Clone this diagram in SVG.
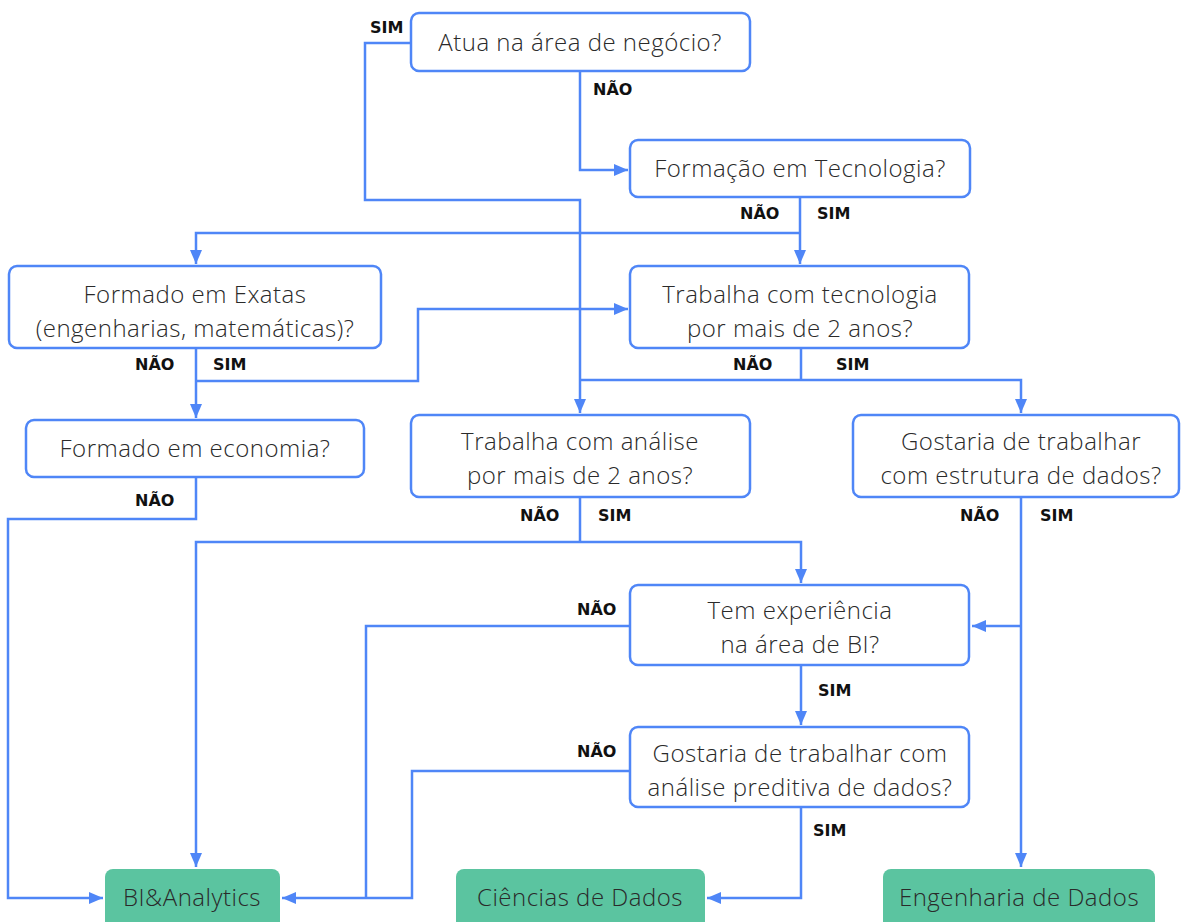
<svg xmlns="http://www.w3.org/2000/svg" width="1181" height="922" viewBox="0 0 1181 922">
<defs>
<marker id="ah" viewBox="0 0 14 12" refX="14" refY="6" markerWidth="14" markerHeight="12" markerUnits="userSpaceOnUse" orient="auto">
<path d="M0,0 L14,6 L0,12 z" fill="#4f86f7"/>
</marker>
<style>
.q rect{fill:#fff;stroke:#4f86f7;stroke-width:2.5}
.r rect{fill:#5bc4a0}
.q text,.r text{font-family:"Open Sans","Liberation Sans",sans-serif;font-weight:300;font-size:24px;letter-spacing:0.5px;fill:#2a2a2a;text-anchor:middle}
.c path{fill:none;stroke:#4f86f7;stroke-width:2.5}
.c path.a{marker-end:url(#ah)}
.l{font-family:"DejaVu Sans","Liberation Sans",sans-serif;font-weight:700;font-size:16px;fill:#111}
</style>
</defs>
<rect width="1181" height="922" fill="#fff"/>
<g class="c">
<path d="M411,43 H365 V200 H580 V413" class="a"/>
<path d="M580,71 V170 H628" class="a"/>
<path d="M800,197 V264" class="a"/>
<path d="M800,233 H196 V264" class="a"/>
<path d="M196,348 V418" class="a"/>
<path d="M196,381 H418 V309 H628" class="a"/>
<path d="M196,477 V519 H8 V898 H103" class="a"/>
<path d="M801,348 V380"/>
<path d="M580,380 H1021 V413" class="a"/>
<path d="M580,497 V542"/>
<path d="M580,542 H196 V867" class="a"/>
<path d="M580,542 H801 V583" class="a"/>
<path d="M1021,497 V867" class="a"/>
<path d="M1021,626 H972" class="a"/>
<path d="M630,626 H366 V898"/>
<path d="M630,771 H412 V898 H282" class="a"/>
<path d="M801,665 V725" class="a"/>
<path d="M801,807 V898 H707" class="a"/>
</g>
<g id="n1" class="q"><rect x="411" y="13" width="339" height="58" rx="8"/><text x="580" y="51">Atua na área de negócio?</text></g>
<g id="n2" class="q"><rect x="630" y="140" width="340" height="57" rx="8"/><text x="800" y="177">Formação em Tecnologia?</text></g>
<g id="n3" class="q"><rect x="9" y="266" width="372" height="82" rx="8"/><text x="195" y="303">Formado em Exatas</text><text x="195" y="337">(engenharias, matemáticas)?</text></g>
<g id="n4" class="q"><rect x="630" y="266" width="339" height="82" rx="8"/><text x="800" y="303">Trabalha com tecnologia</text><text x="800" y="337">por mais de 2 anos?</text></g>
<g id="n5" class="q"><rect x="26" y="420" width="338" height="57" rx="8"/><text x="195" y="457">Formado em economia?</text></g>
<g id="n6" class="q"><rect x="411" y="415" width="339" height="82" rx="8"/><text x="580" y="450">Trabalha com análise</text><text x="580" y="484">por mais de 2 anos?</text></g>
<g id="n7" class="q"><rect x="853" y="415" width="326" height="82" rx="8"/><text x="1021" y="450">Gostaria de trabalhar</text><text x="1021" y="484">com estrutura de dados?</text></g>
<g id="n8" class="q"><rect x="630" y="585" width="339" height="80" rx="8"/><text x="800" y="619">Tem experiência</text><text x="800" y="653">na área de BI?</text></g>
<g id="n9" class="q"><rect x="630" y="727" width="339" height="80" rx="8"/><text x="800" y="762">Gostaria de trabalhar com</text><text x="800" y="796">análise preditiva de dados?</text></g>
<g id="r1" class="r"><rect x="105" y="869" width="175" height="70" rx="8"/><text x="192" y="906">BI&amp;Analytics</text></g>
<g id="r2" class="r"><rect x="456" y="869" width="249" height="70" rx="8"/><text x="580" y="906">Ciências de Dados</text></g>
<g id="r3" class="r"><rect x="883" y="869" width="272" height="70" rx="8"/><text x="1019" y="906">Engenharia de Dados</text></g>
<g id="labels">
<text class="l" x="370" y="33">SIM</text>
<text class="l" x="593" y="95">NÃO</text>
<text class="l" x="740" y="219">NÃO</text>
<text class="l" x="817" y="219">SIM</text>
<text class="l" x="135" y="370">NÃO</text>
<text class="l" x="213" y="370">SIM</text>
<text class="l" x="733" y="370">NÃO</text>
<text class="l" x="836" y="370">SIM</text>
<text class="l" x="135" y="506">NÃO</text>
<text class="l" x="520" y="521">NÃO</text>
<text class="l" x="598" y="521">SIM</text>
<text class="l" x="960" y="521">NÃO</text>
<text class="l" x="1040" y="521">SIM</text>
<text class="l" x="577" y="615">NÃO</text>
<text class="l" x="818" y="696">SIM</text>
<text class="l" x="577" y="757">NÃO</text>
<text class="l" x="813" y="836">SIM</text>
</g>
</svg>
